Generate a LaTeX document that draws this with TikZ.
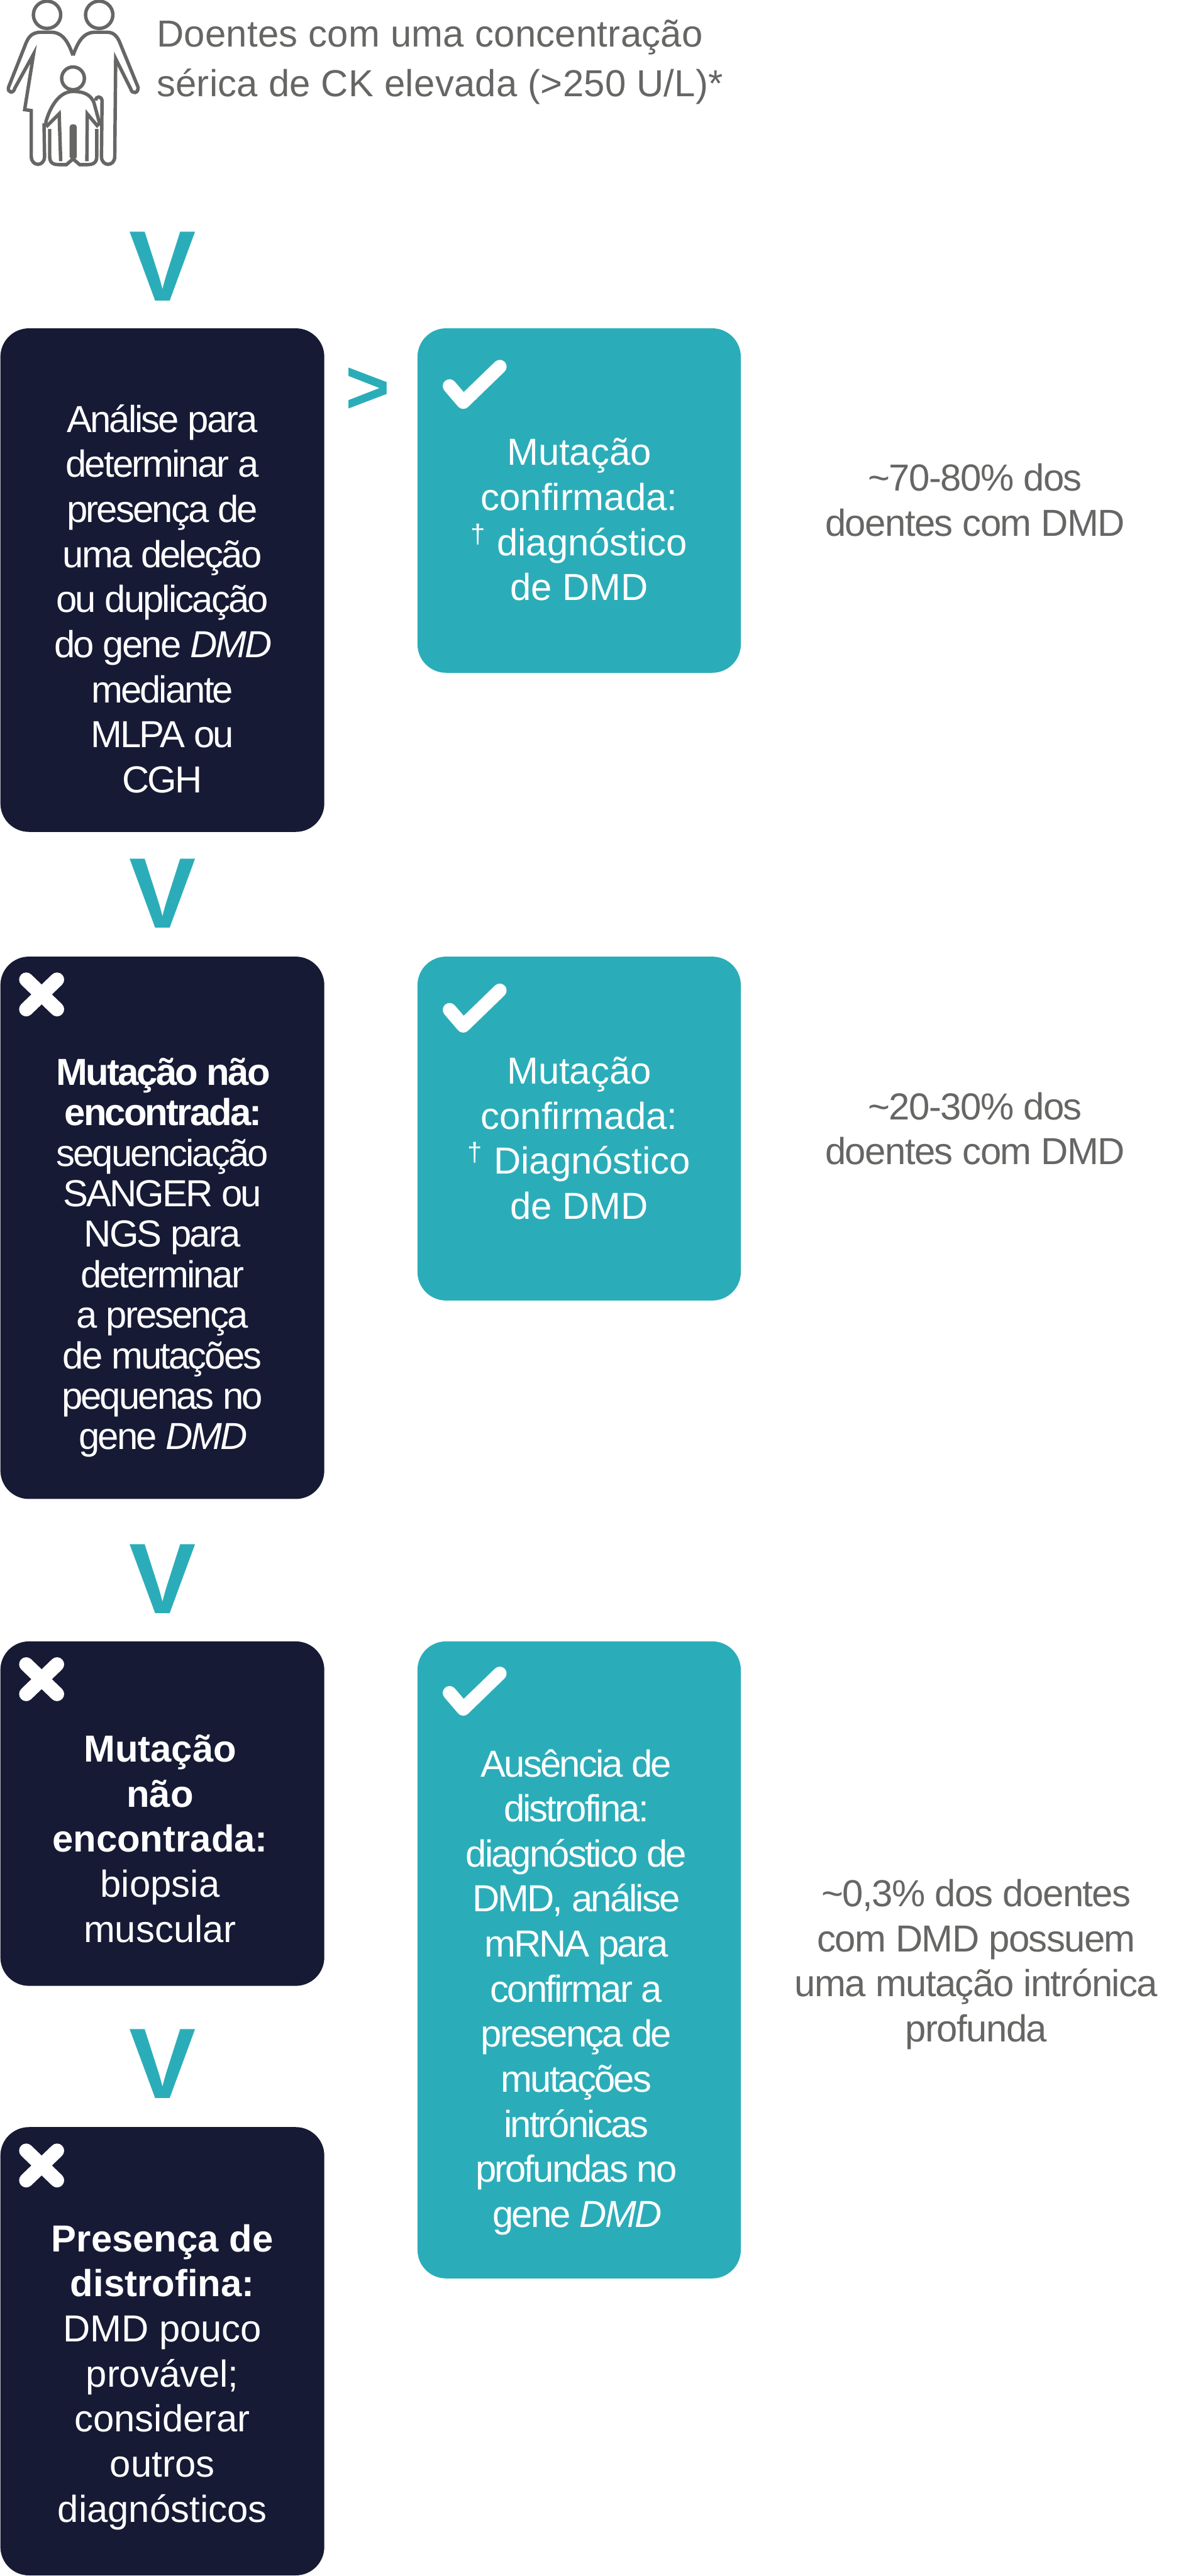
\documentclass[tikz,border=0pt]{standalone}
\usepackage{fontspec}
\setmainfont{Liberation Sans}
\newfontfamily\tightfont[LetterSpace=-4.8]{Liberation Sans}
\newfontfamily\notefont[LetterSpace=-2.6]{Liberation Sans}
\newfontfamily\headfont[LetterSpace=0.5]{Liberation Sans}
\usetikzlibrary{positioning}
\definecolor{navy}{HTML}{171A35}
\definecolor{tealbox}{HTML}{2BADB9}
\definecolor{greytext}{HTML}{666664}
\tikzset{
  navybox/.style={fill=navy, rounded corners=0.5cm, minimum width=5.68cm, inner sep=0pt},
  tealcard/.style={fill=tealbox, rounded corners=0.5cm, minimum width=5.67cm, inner sep=0pt},
  chevron/.style={text=tealbox, inner sep=0pt, font=\fontsize{50}{50}\selectfont\bfseries},
  plain/.style={align=center, inner sep=0pt, anchor=base, font=\fontsize{18.78}{22.48}\selectfont},
  whitetext/.style={plain, text=white},
  tighttext/.style={whitetext, font=\fontsize{18.78}{22.48}\selectfont\tightfont},
  notetext/.style={plain, text=greytext, font=\fontsize{18.78}{22.48}\selectfont\notefont},
  pics/tick/.style={code={\draw[white, line width=0.24cm, line cap=round, line join=round] (-0.24,0.28) -- (0,0) -- (0.64,0.62);}},
  pics/cross/.style={code={\draw[white, line width=0.25cm, line cap=round] (-0.27,0.26) -- (0.27,-0.26) (-0.27,-0.26) -- (0.27,0.26);}}
}
\begin{document}
\begin{tikzpicture}
  \useasboundingbox (0,0) rectangle (20.7,-45.17);

  \begin{scope}[x=0.00333cm, y=-0.00333cm, draw=greytext, line width=0.06cm]
    \draw (248,78) circle[radius=72];
    \draw (523,78) circle[radius=72];
    \draw (385,413) circle[radius=60];
    \draw (385,292) .. controls (365,240) and (340,170) .. (270,170) -- (215,170)
      .. controls (160,170) and (145,205) .. (130,245) -- (45,460)
      .. controls (38,490) and (72,495) .. (78,465) -- (177,285) -- (130,578) -- (165,583) -- (165,825)
      .. controls (165,880) and (235,880) .. (235,825) -- (232,650);
    \draw (385,292) .. controls (405,240) and (430,170) .. (500,170) -- (565,170)
      .. controls (610,170) and (625,205) .. (640,245) -- (728,460)
      .. controls (730,495) and (695,495) .. (690,470) -- (610,310) -- (605,825)
      .. controls (605,880) and (535,880) .. (535,825) -- (538,530)
      .. controls (535,505) and (505,505) .. (505,530);
    \draw (240,650) .. controls (255,590) and (300,482) .. (385,482)
      .. controls (450,482) and (480,505) .. (495,540) -- (525,650) -- (512,662) -- (460,600) -- (458,850);
    \draw (240,650) -- (250,662) -- (312,600) -- (320,850);
    \draw (262,680) -- (262,825) .. controls (262,875) and (300,868) .. (350,868) -- (385,838)
      -- (420,868) .. controls (470,868) and (510,875) .. (510,825) -- (510,680);
    \fill[greytext, rounded corners=0.05cm] (367,655) rectangle (405,840);
  \end{scope}
  \node[plain, text=greytext, anchor=base west, align=left, font=\fontsize{18.78}{24.75}\selectfont\headfont] (head) at (2.74,-1.69)
    {Doentes com uma concentração\\sérica de CK elevada (>250 U/L)*};

  \node[navybox, minimum height=8.83cm, anchor=north west] (b1) at (0,-5.75) {};
  \node[chevron, above=0.47cm of b1] (v1) {V};
  \node[chevron, below=0.46cm of b1] (v2) {V};
  \node[navybox, minimum height=9.51cm, below=0.49cm of v2] (b2) {};
  \node[chevron, below=0.78cm of b2] (v3) {V};
  \node[navybox, minimum height=6.04cm, below=0.48cm of v3] (b3) {};
  \node[chevron, below=0.75cm of b3] (v4) {V};
  \node[navybox, minimum height=7.86cm, below=0.49cm of v4] (b4) {};

  \node[tealcard, minimum height=6.04cm, right=1.62cm of b1.north east, anchor=north west] (t1) {};
  \node[tealcard, minimum height=6.03cm, right=1.62cm of b2.north east, anchor=north west] (t2) {};
  \node[tealcard, minimum height=11.17cm, right=1.62cm of b3.north east, anchor=north west] (t3) {};
  \node[chevron, font=\fontsize{38}{38}\selectfont\bfseries] (g1) at ([xshift=0.76cm, yshift=-1.10cm]b1.north east) {>};

  \pic at ([xshift=0.81cm, yshift=-1.30cm]t1.north west) {tick};
  \pic at ([xshift=0.81cm, yshift=-1.22cm]t2.north west) {tick};
  \pic at ([xshift=0.81cm, yshift=-1.19cm]t3.north west) {tick};
  \pic at ([xshift=0.73cm, yshift=-0.67cm]b2.north west) {cross};
  \pic at ([xshift=0.73cm, yshift=-0.67cm]b3.north west) {cross};
  \pic at ([xshift=0.73cm, yshift=-0.68cm]b4.north west) {cross};

  \node[tighttext] (l1) at ([yshift=-8.15cm]b1.north) {Análise para\\determinar a\\presença de\\uma deleção\\ou duplicação\\do gene \textit{DMD}\\mediante\\MLPA ou\\CGH};
  \node[tighttext, font=\fontsize{18.78}{20.2}\selectfont\tightfont] (l2) at ([yshift=-8.65cm]b2.north) {\textbf{Mutação não}\\\textbf{encontrada:}\\sequenciação\\SANGER ou\\NGS para\\determinar\\a presença\\de mutações\\pequenas no\\gene \textit{DMD}};
  \node[whitetext] (l3) at ([xshift=-0.04cm, yshift=-5.28cm]b3.north) {\textbf{Mutação}\\\textbf{não}\\\textbf{encontrada:}\\biopsia\\muscular};
  \node[whitetext] (l4) at ([yshift=-6.93cm]b4.north) {\textbf{Presença de}\\\textbf{distrofina:}\\DMD pouco\\provável;\\considerar\\outros\\diagnósticos};

  \node[whitetext] (m1) at ([yshift=-4.78cm]t1.north) {Mutação\\confirmada:\\\textsuperscript{†} diagnóstico\\de DMD};
  \node[whitetext] (m2) at ([yshift=-4.61cm]t2.north) {Mutação\\confirmada:\\\textsuperscript{†} Diagnóstico\\de DMD};
  \node[tighttext] (m3) at ([xshift=-0.05cm, yshift=-10.28cm]t3.north) {Ausência de\\distrofina:\\diagnóstico de\\DMD, análise\\mRNA para\\confirmar a\\presença de\\mutações\\intrónicas\\profundas no\\gene \textit{DMD}};

  \node[notetext] (n1) at (17.10,-9.40) {\textasciitilde 70-80\% dos\\doentes com DMD};
  \node[notetext] (n2) at (17.10,-20.42) {\textasciitilde 20-30\% dos\\doentes com DMD};
  \node[notetext] (n3) at (17.12,-35.80) {\textasciitilde 0,3\% dos doentes\\com DMD possuem\\uma mutação intrónica\\profunda};
\end{tikzpicture}
\end{document}
